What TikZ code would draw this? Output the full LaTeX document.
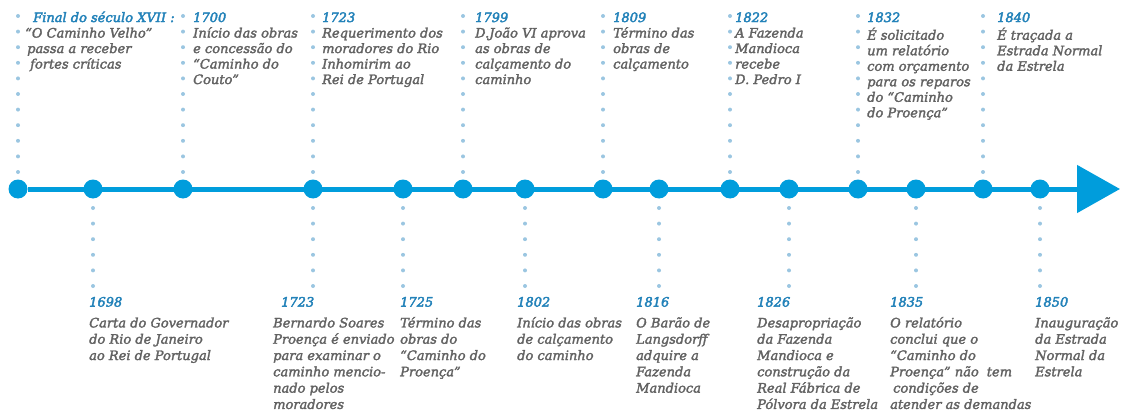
\documentclass[tikz,border=0pt]{standalone}
\usepackage{fontspec}
\setmainfont{DejaVu Serif}
\newfontfamily\rotfont{DejaVu Serif Italic}[FakeBold=2.2]
\newfontfamily\anofont{DejaVu Serif Italic}[FakeBold=3]
\usetikzlibrary{arrows.meta}
\definecolor{azul}{RGB}{0,157,220}
\definecolor{azulclaro}{RGB}{155,198,225}
\definecolor{azulano}{RGB}{35,130,185}
\definecolor{cinza}{RGB}{98,98,98}
\newcommand{\ano}[1]{\textcolor{azulano}{\anofont #1}}

\begin{document}
\begin{tikzpicture}[x=1pt,y=-1pt,
            marco/.style={circle,fill=azul,inner sep=0pt,minimum size=19pt},
            pontilhado/.style={azulclaro,line width=4pt,line cap=round,dash pattern=on 0pt off 15.6pt},
            rotulo/.style={anchor=north west,inner sep=0pt,align=left,text=cinza,font=\fontsize{13}{15.5}\selectfont\rotfont},
            rotulobaixo/.style={rotulo,font=\fontsize{13}{16.3}\selectfont\rotfont},
            linha/.style={azul,line width=5pt,-{Triangle[length=43pt,width=47pt]}}]
            \useasboundingbox (0,0) rectangle (1127,417);

            \node[marco] (d1) at (18,189) {};
            \node[marco] (d2) at (93,189) {};
            \node[marco] (d3) at (183,189) {};
            \node[marco] (d4) at (313,189) {};
            \node[marco] (d5) at (403,189) {};
            \node[marco] (d6) at (463,189) {};
            \node[marco] (d7) at (525,189) {};
            \node[marco] (d8) at (603,189) {};
            \node[marco] (d9) at (659,189) {};
            \node[marco] (d10) at (730,189) {};
            \node[marco] (d11) at (789,189) {};
            \node[marco] (d12) at (858,189) {};
            \node[marco] (d13) at (916,189) {};
            \node[marco] (d14) at (983,189) {};
            \node[marco] (d15) at (1040,189) {};
            \coordinate (fim) at (1120,189);
            \draw[linha] (d1) -- (fim);

            \coordinate (topo) at (0,16);
            \coordinate (base) at (0,286);
            \draw[pontilhado] (d1 |- topo) -- (d1);
            \draw[pontilhado] (d3 |- topo) -- (d3);
            \draw[pontilhado] (d4 |- topo) -- (d4);
            \draw[pontilhado] (d6 |- topo) -- (d6);
            \draw[pontilhado] (d8 |- topo) -- (d8);
            \draw[pontilhado] (d10 |- topo) -- (d10);
            \draw[pontilhado] (d12 |- topo) -- (d12);
            \draw[pontilhado] (d14 |- topo) -- (d14);
            \draw[pontilhado] (d2 |- base) -- (d2);
            \draw[pontilhado] (d4 |- base) -- (d4);
            \draw[pontilhado] (d5 |- base) -- (d5);
            \draw[pontilhado] (d7 |- base) -- (d7);
            \draw[pontilhado] (d9 |- base) -- (d9);
            \draw[pontilhado] (d11 |- base) -- (d11);
            \draw[pontilhado] (d13 |- base) -- (d13);
            \draw[pontilhado] (d15 |- base) -- (d15);

            \node[rotulo] (tXVII) at (25,11) {\hspace*{8pt}\ano{\strut Final do século XVII :}\\“O Caminho Velho”\\\hspace*{2pt}passa a receber\\\hspace*{5pt}fortes críticas};
            \node[rotulo] (t1700) at (193,11) {\ano{\strut 1700}\\Início das obras\\e concessão do\\“Caminho do\\Couto”};
            \node[rotulo] (t1723) at (322,11) {\ano{\strut 1723}\\Requerimento dos\\moradores do Rio\\Inhomirim ao\\Rei de Portugal};
            \node[rotulo] (t1799) at (475,11) {\ano{\strut 1799}\\D.João VI aprova\\as obras de\\calçamento do\\caminho};
            \node[rotulo] (t1809) at (613,11) {\ano{\strut 1809}\\Término das\\obras de\\calçamento};
            \node[rotulo] (t1822) at (735,11) {\ano{\strut 1822}\\A Fazenda\\Mandioca\\recebe\\D. Pedro I};
            \node[rotulo] (t1832) at (867,11) {\ano{\strut 1832}\\É solicitado\\um relatório\\com orçamento\\para os reparos\\do “Caminho\\do Proença”};
            \node[rotulo] (t1840) at (997,11) {\ano{\strut 1840}\\É traçada a\\Estrada Normal\\da Estrela};

            \node[rotulobaixo] (b1698) at (89,295) {\ano{\strut 1698}\\[4.5pt]Carta do Governador\\do Rio de Janeiro\\ao Rei de Portugal};
            \node[rotulobaixo] (b1723) at (273,295) {\hspace*{8pt}\ano{\strut 1723}\\[4.5pt]Bernardo Soares\\Proença é enviado\\para examinar o\\caminho mencio-\\nado pelos\\moradores};
            \node[rotulobaixo] (b1725) at (400,295) {\ano{\strut 1725}\\[4.5pt]Término das\\obras do\\“Caminho do\\Proença”};
            \node[rotulobaixo] (b1802) at (517,295) {\ano{\strut 1802}\\[4.5pt]Início das obras\\de calçamento\\do caminho};
            \node[rotulobaixo] (b1816) at (636,295) {\ano{\strut 1816}\\[4.5pt]O Barão de\\Langsdorff\\adquire a\\Fazenda\\Mandioca};
            \node[rotulobaixo] (b1826) at (757,295) {\ano{\strut 1826}\\[4.5pt]Desapropriação\\da Fazenda\\Mandioca e\\construção da\\Real Fábrica de\\Pólvora da Estrela};
            \node[rotulobaixo] (b1835) at (890,295) {\ano{\strut 1835}\\[4.5pt]O relatório\\conclui que o\\“Caminho do\\Proença” não\hspace*{8pt}tem\\\hspace*{3pt}condições de\\atender as demandas};
            \node[rotulobaixo] (b1850) at (1035,295) {\ano{\strut 1850}\\[4.5pt]Inauguração\\da Estrada\\Normal da\\Estrela};
        \end{tikzpicture}
\end{document}
